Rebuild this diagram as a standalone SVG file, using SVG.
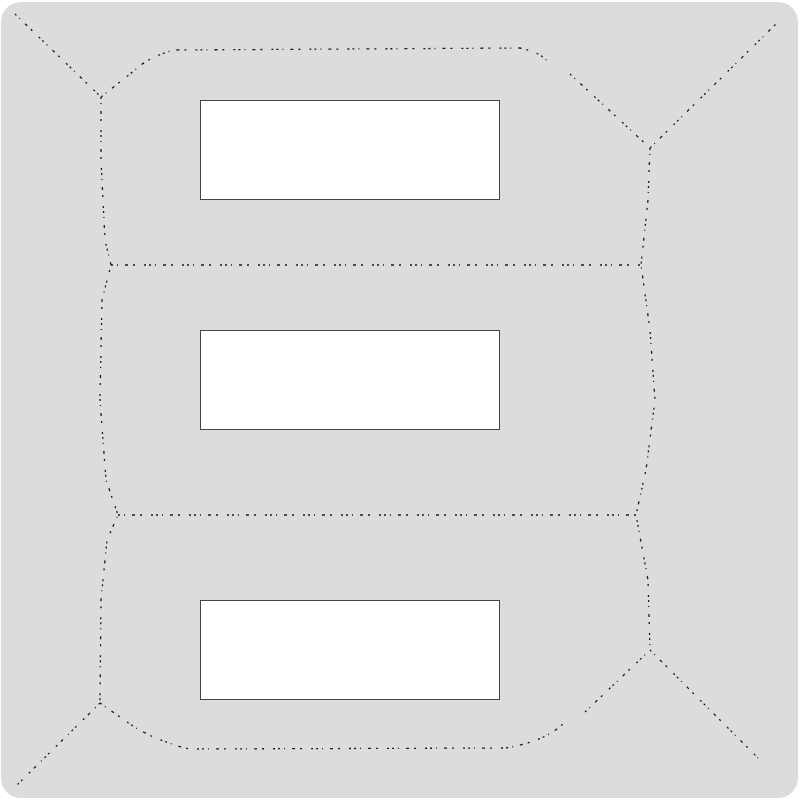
<svg xmlns="http://www.w3.org/2000/svg" width="800" height="800" viewBox="0 0 800 800">
<style>
.bg{fill:#dcdcdc;stroke:none}
.box{fill:#ffffff;stroke:#444444;stroke-width:1}
.edge{fill:none;stroke:#1a1a1a;stroke-width:1.3;stroke-dasharray:2 4 1 7 3 5 2 9 2 3}
</style>
<rect class="bg" x="1" y="2" width="797" height="796" rx="20" ry="20"/>
<g id="connectors">
<path class="edge" d="M15,14 L101,97"/>
<path class="edge" d="M101,97 L135,70 Q150,56 175,50 L520,48 Q540,52 548,62"/>
<path class="edge" d="M101,97 L101,160 L105,240 L111,265 L102,300 L100,400 L106,480 L118,515 L107,540 L101,600 L100,703"/>
<path class="edge" d="M111,265 L640,265"/>
<path class="edge" d="M118,515 L636,515"/>
<path class="edge" d="M570,74 L650,148"/>
<path class="edge" d="M650,148 L780,20"/>
<path class="edge" d="M650,148 L648,200 L641,265 L650,330 L655,400 L646,470 L636,515 L648,580 L650,650"/>
<path class="edge" d="M100,703 L17,785"/>
<path class="edge" d="M100,703 L120,717 Q150,740 190,749 L505,748 Q545,742 565,722"/>
<path class="edge" d="M585,712 L650,650"/>
<path class="edge" d="M650,650 L758,758"/>
</g>
<g id="node1"><rect class="box" x="200.5" y="100.5" width="299" height="99"/></g>
<g id="node2"><rect class="box" x="200.5" y="330.5" width="299" height="99"/></g>
<g id="node3"><rect class="box" x="200.5" y="600.5" width="299" height="99"/></g>
</svg>
